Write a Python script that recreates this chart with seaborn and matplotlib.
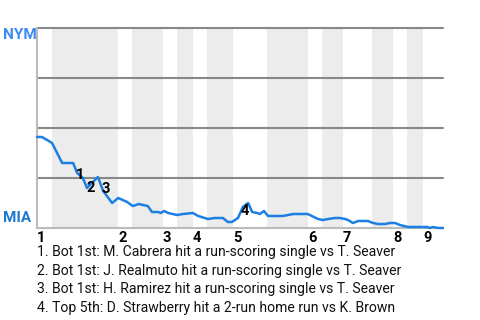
import matplotlib
matplotlib.use("Agg")
import matplotlib.pyplot as plt
import seaborn as sns
import pandas as pd

# ---- data ----
play = [0, 1.2, 2.5, 3.7, 6.2, 8.9, 9.9, 11.3, 12.3, 15.0, 16.3, 18.5, 20.0, 22.2, 23.6,
        25.1, 26.1, 27.3, 28.3, 29.8, 30.5, 31.3, 32.3, 34.5, 36.0, 38.4, 39.7, 42.1,
        43.8, 45.8, 47.0, 48.0, 49.5, 50.7, 52.0, 53.0, 54.2, 54.9, 55.9, 56.9, 60.6,
        63.1, 66.7, 67.7, 69.2, 70.4, 71.7, 73.4, 74.6, 75.9, 76.6, 77.8, 79.1, 81.5,
        82.8, 84.0, 85.7, 86.9, 88.2, 89.4, 91.4, 96.1, 96.8, 97.5, 98.8, 100]
nym_win_prob = [0.455, 0.455, 0.44, 0.425, 0.325, 0.325, 0.275, 0.25, 0.20, 0.255, 0.185,
                0.125, 0.15, 0.13, 0.11, 0.12, 0.115, 0.11, 0.08, 0.08, 0.075, 0.085,
                0.075, 0.065, 0.07, 0.075, 0.06, 0.045, 0.05, 0.05, 0.03, 0.03, 0.05,
                0.105, 0.125, 0.08, 0.075, 0.07, 0.085, 0.06, 0.06, 0.07, 0.07, 0.06,
                0.045, 0.04, 0.045, 0.05, 0.05, 0.045, 0.04, 0.025, 0.035, 0.035, 0.025,
                0.02, 0.02, 0.025, 0.025, 0.015, 0.005, 0.005, 0.0, 0.005, 0.0, 0.0]

inning_labels = ["1", "2", "3", "4", "5", "6", "7", "8", "9"]
inning_start = [0, 20.0, 31.0, 38.4, 48.3, 66.7, 75.4, 87.7, 95.1]
bottom_half_start = [3.7, 23.4, 34.5, 41.9, 56.7, 70.2, 82.5, 91.1]
bottom_half_end = [20.0, 31.0, 38.4, 48.3, 66.7, 75.4, 87.7, 95.1]

event_ids = ["1", "2", "3", "4"]
event_play_idx = [7, 8, 10, 34]
event_texts = [
    "1. Bot 1st: M. Cabrera hit a run-scoring single vs T. Seaver",
    "2. Bot 1st: J. Realmuto hit a run-scoring single vs T. Seaver",
    "3. Bot 1st: H. Ramirez hit a run-scoring single vs T. Seaver",
    "4. Top 5th: D. Strawberry hit a 2-run home run vs K. Brown",
]
team_top = "NYM"
team_bottom = "MIA"

df = pd.DataFrame({"play": play, "p": nym_win_prob})

# ---- style ----
sns.set_theme(style="white")
plt.rcParams["font.family"] = ["Roboto", "DejaVu Sans"]

W, H = 480, 320
fig = plt.figure(figsize=(W / 100, H / 100), dpi=100)
x0, x1, y0, y1 = 37, 443, 28, 228
ax = fig.add_axes([x0 / W, 1 - y1 / H, (x1 - x0) / W, (y1 - y0) / H])

for s, e in zip(bottom_half_start, bottom_half_end):
    ax.axvspan(s, e, color="#ececec", lw=0, zorder=0)

for g in [0.25, 0.5, 0.75, 1.0]:
    ax.axhline(g, color="#888888", lw=1.5, zorder=1, clip_on=False)

sns.lineplot(data=df, x="play", y="p", ax=ax, color="#1c7fe3", lw=1.8, zorder=3,
             clip_on=False)

offsets = [(-3, 3), (4, 0), (3, 2), (-3, -8)]
for lab, idx, off in zip(event_ids, event_play_idx, offsets):
    ax.annotate(lab, (play[idx], nym_win_prob[idx]), xytext=off,
                textcoords="offset pixels", ha="center", va="center",
                fontsize=10.5, fontweight="bold", color="black", zorder=4)

ax.set_xlim(0, 100)
ax.set_ylim(0, 1)
ax.set_xticks(inning_start)
ax.set_xticklabels(inning_labels, fontsize=10.5, fontweight="bold", color="black",
                   ha="left")
ax.tick_params(axis="x", length=0, pad=2)
ax.set_yticks([])
ax.set_xlabel("")
ax.set_ylabel("")
for side in ["top", "right"]:
    ax.spines[side].set_visible(False)
for side in ["left", "bottom"]:
    ax.spines[side].set_color("#bbbbbb")
    ax.spines[side].set_linewidth(1.5)

fig.text(2.5 / W, 1 - 28 / H, team_top, ha="left", va="top", fontsize=11,
         fontweight="bold", color="#3b8cf2")
fig.text(2.5 / W, 1 - 225 / H, team_bottom, ha="left", va="bottom", fontsize=11,
         fontweight="bold", color="#1f78d0")

for i, t in enumerate(event_texts):
    fig.text(37 / W, 1 - (252 + 18.7 * i) / H, t, ha="left", va="center",
             fontsize=10.1, color="#111111")

fig.savefig("out.png", dpi=100)
